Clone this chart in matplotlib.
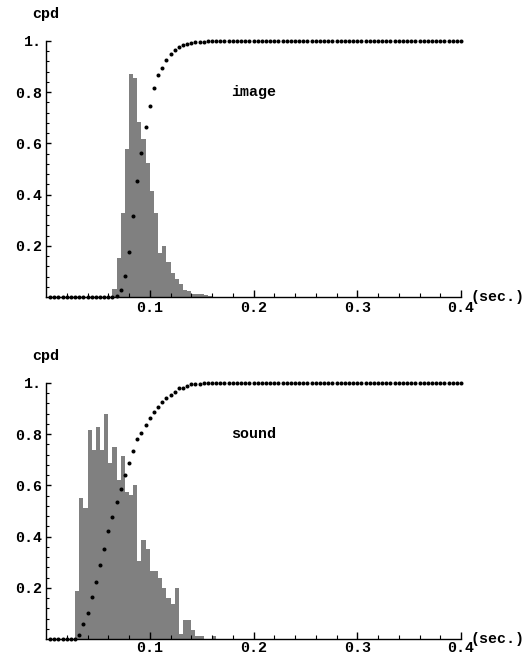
import numpy as np
import matplotlib
matplotlib.use("Agg")
import matplotlib.pyplot as plt

# histogram bins are 0.004 wide
bin_width = 0.004

# image response times: first bin starts at 0.064
image_start = 0.064
image_hist = [0.03, 0.151, 0.33, 0.58, 0.871, 0.854, 0.685, 0.617, 0.522, 0.414,
              0.33, 0.17, 0.2, 0.138, 0.095, 0.07, 0.05, 0.027, 0.023, 0.012,
              0.01, 0.012, 0.009, 0.004]

# sound response times: first bin starts at 0.028
sound_start = 0.028
sound_hist = [0.189, 0.55, 0.512, 0.815, 0.74, 0.828, 0.74, 0.879, 0.688, 0.75,
              0.62, 0.715, 0.574, 0.564, 0.60, 0.303, 0.385, 0.35, 0.264, 0.264,
              0.238, 0.199, 0.16, 0.137, 0.199, 0.02, 0.075, 0.075, 0.034, 0.013,
              0.013, 0.0, 0.0, 0.013]

x_ticks = [0.1, 0.2, 0.3, 0.4]
x_labels = ["0.1", "0.2", "0.3", "0.4"]
y_ticks = [0.2, 0.4, 0.6, 0.8, 1.0]
y_labels = ["0.2", "0.4", "0.6", "0.8", "1."]

FONT = dict(family="Liberation Mono", weight="bold", size=10.8)

W, H = 528, 656
fig = plt.figure(figsize=(W / 100, H / 100), dpi=100)


def panel(rect, start, hist, label, xpad=3):
    ax = fig.add_axes(rect)
    hist = np.asarray(hist)
    edges = start + bin_width * np.arange(len(hist) + 1)
    ax.stairs(hist, edges, fill=True, color="#808080", linewidth=0)

    # cumulative distribution sampled at every bin edge from 0.004 to 0.4
    grid = bin_width * np.arange(1, 101)
    cum = np.concatenate([[0.0], np.cumsum(hist)]) / hist.sum()
    cdf = np.interp(grid, edges, cum, left=0.0, right=1.0)
    ax.plot(grid, cdf, "o", color="black", markersize=2.9, markeredgewidth=0, clip_on=False)

    ax.set_xlim(0, 0.4)
    ax.set_ylim(0, 1)
    for s in ("top", "right"):
        ax.spines[s].set_visible(False)
    for s in ("left", "bottom"):
        ax.spines[s].set_linewidth(1.0)

    ax.set_xticks(x_ticks)
    ax.set_xticklabels(x_labels, **FONT)
    ax.set_xticks(np.arange(0.02, 0.4, 0.02), minor=True)
    ax.set_yticks(y_ticks)
    ax.set_yticklabels(y_labels, **FONT)
    ax.set_yticks(np.arange(0.04, 1.0, 0.04), minor=True)
    ax.tick_params(axis="x", which="major", direction="in", length=5, width=1, pad=xpad)
    ax.tick_params(axis="x", which="minor", direction="in", length=2.8, width=0.8)
    ax.tick_params(axis="y", which="major", direction="in", length=3.3, width=1, pad=3)
    ax.tick_params(axis="y", which="minor", direction="in", length=1.8, width=0.8)

    ax.annotate("cpd", xy=(0, 1), xycoords="axes fraction", xytext=(0, 19.5),
                textcoords="offset points", ha="center", va="center", **FONT)
    ax.annotate("(sec.)", xy=(1, 0), xycoords="axes fraction", xytext=(7, 0),
                textcoords="offset points", ha="left", va="center", **FONT)
    ax.text(0.178, 0.80, label, ha="left", va="center", **FONT)
    return ax


left = 46 / W
width = 415 / W
height = 256 / H
panel([left, (H - 297) / H, width, height], image_start, image_hist, "image")
panel([left, (H - 639) / H, width, height], sound_start, sound_hist, "sound", xpad=1.5)

fig.savefig("out.png", dpi=100)
